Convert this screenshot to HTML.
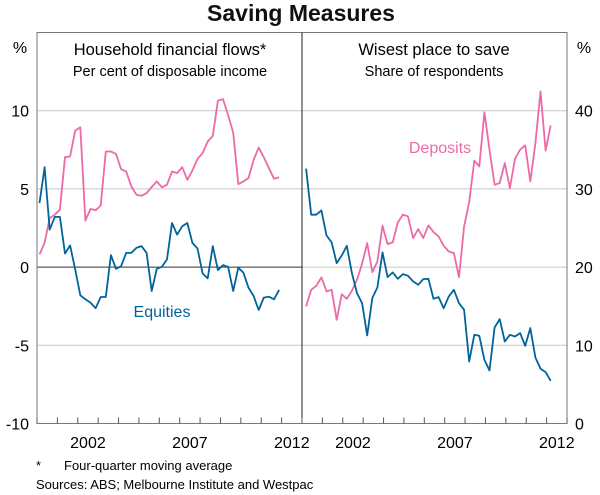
<!DOCTYPE html>
<html><head><meta charset="utf-8"><style>
body{margin:0;background:#fff;}
svg{display:block;font-family:"Liberation Sans",Arial,sans-serif;}
</style></head><body>
<svg id="chart" width="600" height="495" viewBox="0 0 600 495" xmlns="http://www.w3.org/2000/svg">
<text x="301" y="21" text-anchor="middle" font-size="23" font-weight="bold" fill="#111">Saving Measures</text>
<g id="grid"></g>
<g id="series"></g>
<rect x="37" y="32.5" width="530" height="391" fill="none" stroke="#777" stroke-width="1"/>
<line x1="302" y1="32.5" x2="302" y2="423.5" stroke="#222" stroke-width="1"/>
<g id="axes"></g>
<text x="20" y="53" text-anchor="middle" font-size="16">%</text>
<text x="584" y="53" text-anchor="middle" font-size="16">%</text>
<text x="170" y="55" text-anchor="middle" font-size="16.5">Household financial flows*</text>
<text x="170" y="76" text-anchor="middle" font-size="14.5">Per cent of disposable income</text>
<text x="434" y="55" text-anchor="middle" font-size="16.5">Wisest place to save</text>
<text x="434" y="76" text-anchor="middle" font-size="14.5">Share of respondents</text>
<text x="162" y="317" text-anchor="middle" font-size="16" fill="#00649b">Equities</text>
<text x="440" y="153" text-anchor="middle" font-size="16" fill="#ec6aa8">Deposits</text>
<text x="36" y="470" font-size="13">*</text>
<text x="64" y="470" font-size="13">Four-quarter moving average</text>
<text x="36" y="489" font-size="13">Sources: ABS; Melbourne Institute and Westpac</text>
</svg>
<script>
const leftDeposits=[0.81,1.55,3.14,3.35,3.67,7.03,7.07,8.73,8.94,2.97,3.72,3.63,3.93,7.39,7.39,7.24,6.26,6.11,5.16,4.63,4.56,4.73,5.12,5.48,5.10,5.27,6.11,6.01,6.39,5.58,6.18,6.92,7.28,8.03,8.39,10.64,10.74,9.72,8.60,5.31,5.48,5.69,6.86,7.64,7.03,6.33,5.65,5.75];
const leftEquities=[4.10,6.39,2.40,3.21,3.21,0.87,1.38,-0.15,-1.80,-2.06,-2.27,-2.63,-1.91,-1.91,0.76,-0.11,0.06,0.91,0.91,1.23,1.34,0.91,-1.53,-0.11,0.02,0.49,2.82,2.08,2.61,2.82,1.55,1.19,-0.40,-0.72,1.34,-0.19,0.13,0.02,-1.53,-0.04,-0.36,-1.32,-1.85,-2.74,-1.95,-1.89,-2.06,-1.46];
const rightDeposits=[14.97,17.10,17.61,18.68,16.89,17.10,13.26,16.55,15.95,16.97,18.38,20.43,23.07,19.36,20.72,25.29,22.94,23.16,25.71,26.70,26.48,23.71,24.86,23.71,25.33,24.48,23.92,22.73,22.00,21.79,18.72,25.20,28.32,33.60,32.88,39.79,35.01,30.53,30.75,33.30,30.11,33.86,35.01,35.57,30.96,35.86,42.47,34.88,38.12];
const rightEquities=[32.58,26.70,26.70,27.25,24.05,23.16,20.51,21.49,22.73,19.23,16.67,15.39,11.26,16.03,17.40,21.88,18.72,19.32,18.51,19.10,18.89,18.17,17.74,18.46,18.51,15.95,16.16,14.75,16.25,17.10,15.39,14.54,7.93,11.34,11.22,8.15,6.78,12.28,13.35,10.49,11.34,11.13,11.56,9.94,12.20,8.44,7.00,6.57,5.46];
const leftStart=2000.125, rightStart=2000.2;
const leftTicks=[-10,-5,0,5,10];
const rightTicks=[0,10,20,30,40];
const yearLabels=[2002,2007,2012];

const NS="http://www.w3.org/2000/svg";
const plotTop=32.5,plotBot=423.5;
function yL(v){return plotBot-(v+10)/25*(plotBot-plotTop);}
function yR(v){return plotBot-v/50*(plotBot-plotTop);}
function xL(t){return 37+(t-2000)*(265/13);}
function xR(t){return 302+(t-2000)*(265/13);}
function mk(tag,attrs,parent){const e=document.createElementNS(NS,tag);for(const k in attrs)e.setAttribute(k,attrs[k]);parent.appendChild(e);return e;}
const grid=document.getElementById('grid'),axes=document.getElementById('axes'),ser=document.getElementById('series');
leftTicks.forEach(v=>{
  if(v>-10){const l=mk('line',{x1:37,x2:302,y1:yL(v),y2:yL(v),stroke:v===0?'#333':'#c8c8c8','stroke-width':1},grid);
  
  }
  const t=mk('text',{x:29,y:yL(v)+6,'text-anchor':'end','font-size':16},axes);t.textContent=v;
  
  
});
rightTicks.forEach(v=>{
  if(v>0){const l=mk('line',{x1:302,x2:567,y1:yR(v),y2:yR(v),stroke:'#c8c8c8','stroke-width':1},grid);
  
  }
  const t=mk('text',{x:575,y:yR(v)+6,'text-anchor':'start','font-size':16},axes);t.textContent=v;
  
  
});
for(let y=2000;y<=2013;y++){
  [xL(y),xR(y)].forEach(x=>{const l=mk('line',{x1:x,x2:x,y1:plotBot,y2:plotBot-6,stroke:'#555','stroke-width':1},axes);
  
  });
}
yearLabels.forEach(y=>{
  const a=mk('text',{x:xL(y+0.5),y:448,'text-anchor':'middle','font-size':16},axes);a.textContent=y;
  
  
  const bx=Math.min(xR(y+0.5),562);
  const b=mk('text',{x:bx,y:448,'text-anchor':'middle','font-size':16},axes);b.textContent=y;
  
  
});
function line(vals,start,xf,yf,color,name){
  const d=vals.map((v,i)=>(i?'L':'M')+xf(start+i*0.25).toFixed(1)+','+yf(v).toFixed(1)).join('');
  const p=mk('path',{d:d,fill:'none',stroke:color,'stroke-width':1.8,'stroke-linejoin':'round'},ser);
  
  
}
line(leftDeposits,leftStart,xL,yL,'#ec6aa8','left-deposits-line');
line(leftEquities,leftStart,xL,yL,'#00649b','left-equities-line');
line(rightDeposits,rightStart,xR,yR,'#ec6aa8','right-deposits-line');
line(rightEquities,rightStart,xR,yR,'#00649b','right-equities-line');
</script>
</body></html>
